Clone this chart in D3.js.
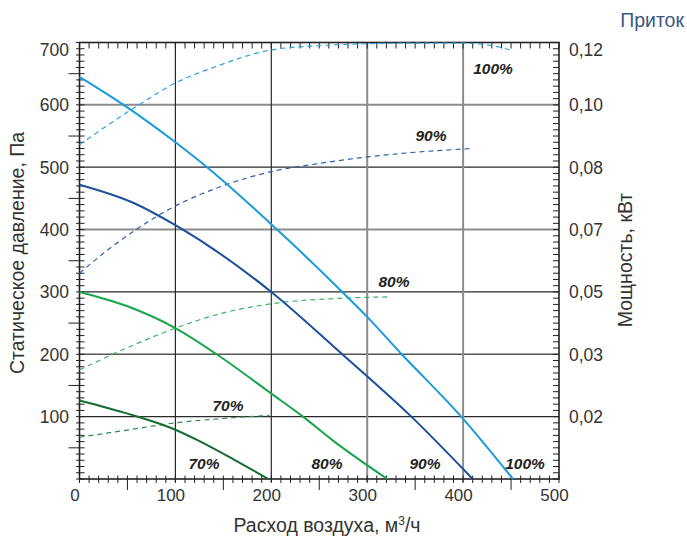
<!DOCTYPE html>
<html><head><meta charset="utf-8">
<script src="https://cdn.jsdelivr.net/npm/d3@7"></script>
<style>body{margin:0;background:#fff;font-family:"Liberation Sans",Arial,sans-serif}</style>
</head><body><svg id="c" width="687" height="538"></svg>
<script>
// ---- data ----
const xTicks = [0,100,200,300,400,500];
const yTicks = [100,200,300,400,500,600,700];
const kwTicks = [0.02,0.03,0.05,0.07,0.08,0.10,0.12];
const kwLabels = ["0,02","0,03","0,05","0,07","0,08","0,10","0,12"];
const speeds = ["100%","90%","80%","70%"];
// pressure curves [flow m3/h, Pa]
const p100 = [[0,645],[46,600],[100,540],[133,500],[206,400],[274,300],[300,260],[336,200],[398,100],[452,0]];
const p90  = [[0,472],[56,443],[100,407],[200,300],[274,200],[346,100],[410,0]];
const p80  = [[0,300],[50,277],[100,242],[143,200],[200,137],[233,100],[264,62],[321,0]];
const p70  = [[0,126],[52,104],[100,79],[122,63],[160,32],[197,0]];
// power curves [flow m3/h, kW]
const w100 = [[0,0.0872],[30,0.0936],[62,0.100],[100,0.107],[138,0.1118],[200,0.1176],[250,0.119],[300,0.1196],[350,0.1198],[400,0.1198],[430,0.119],[452,0.1174]];
const w90  = [[0,0.056],[30,0.0636],[59,0.070],[94,0.0733],[153,0.0772],[200,0.0793],[250,0.0812],[303,0.0834],[350,0.0848],[410,0.086]];
const w80  = [[0,0.0275],[52,0.0324],[100,0.0384],[149,0.0432],[200,0.0462],[274,0.048],[323,0.0484]];
const w70  = [[0,0.0167],[52,0.0179],[100,0.019],[149,0.0197],[198,0.0202]];

const svg = d3.select("#c");
const x = d3.scaleLinear().domain([0,500]).range([79.5,559]);
const y = d3.scaleLinear().domain([0,700]).range([479,42.5]);
const yk = d3.scaleLinear().domain(kwTicks).range(yTicks.map(v=>y(v)));

const grey="#8c8c8c", dark="#2a2a2a";
// gridlines
const hStyle = {100:[dark,1.2],200:["#555",1.5],300:[dark,1.2],400:[grey,2],500:[dark,1.2],600:[grey,2]};
[100,200,300,400,500,600].forEach(v=>{
  svg.append("line").attr("x1",x(0)).attr("x2",x(500)).attr("y1",y(v)).attr("y2",y(v))
    .attr("stroke",hStyle[v][0]).attr("stroke-width",hStyle[v][1]);
});
const vStyle = {100:[dark,1.2],200:[dark,1.2],300:[grey,2],400:[grey,2]};
[100,200,300,400].forEach(v=>{
  svg.append("line").attr("x1",x(v)).attr("x2",x(v)).attr("y1",y(700)).attr("y2",y(0)+3)
    .attr("stroke",vStyle[v][0]).attr("stroke-width",vStyle[v][1]);
});

// minor ticks
const tk = svg.append("g").attr("stroke","#222").attr("stroke-width",1);
d3.range(0,701,10).forEach(v=>{
  const long = v%100===50;
  tk.append("line").attr("x1",x(0)-(long?11:3.5)).attr("x2",x(0)+5).attr("y1",y(v)).attr("y2",y(v));
  tk.append("line").attr("x1",x(500)-6).attr("x2",x(500)).attr("y1",y(v)).attr("y2",y(v));
});
d3.range(0,501,10).forEach(v=>{
  const long = v%100===50;
  tk.append("line").attr("y1",y(0)-3.5).attr("y2",y(0)+(long?11:4)).attr("x1",x(v)).attr("x2",x(v));
  tk.append("line").attr("y1",y(700)).attr("y2",y(700)+6).attr("x1",x(v)).attr("x2",x(v));
});
// frame
svg.append("rect").attr("x",x(0)).attr("y",y(700)).attr("width",x(500)-x(0)).attr("height",y(0)-y(700))
  .attr("fill","none").attr("stroke","#222").attr("stroke-width",1.6);

// tick labels
const topY = v => Math.max(y(v), y(700)+7);
yTicks.forEach(v=>{
  svg.append("text").attr("x",69).attr("y",topY(v)).attr("dy","0.36em").attr("text-anchor","end")
    .attr("fill","#333").attr("font-size",17.5).text(v);
});
xTicks.forEach(v=>{
  svg.append("text").attr("x",x(v)-4.5).attr("y",501).attr("text-anchor","middle")
    .attr("fill","#333").attr("font-size",17).text(v);
});
kwTicks.forEach((v,i)=>{
  svg.append("text").attr("x",569).attr("y",Math.max(yk(v), y(700)+7)).attr("dy","0.36em").attr("text-anchor","start")
    .attr("fill","#333").attr("font-size",17.5).text(kwLabels[i]);
});

// titles
svg.append("text").attr("transform","translate(24,253) rotate(-90)").attr("text-anchor","middle")
  .attr("fill","#333").attr("font-size",19.5).text("Статическое давление, Па");
svg.append("text").attr("transform","translate(632,260) rotate(-90)").attr("text-anchor","middle")
  .attr("fill","#333").attr("font-size",19.5).text("Мощность, кВт");
const xt = svg.append("text").attr("x",327).attr("y",532).attr("text-anchor","middle")
  .attr("fill","#333").attr("font-size",19.5);
xt.append("tspan").text("Расход воздуха, м");
xt.append("tspan").attr("font-size",12).attr("dy",-7).text("3");
xt.append("tspan").attr("dy",7).text("/ч");
svg.append("text").attr("x",684).attr("y",27).attr("text-anchor","end")
  .attr("fill","#3d5a80").attr("font-size",19.5).text("Приток");

// curves
const lp = d3.line().x(d=>x(d[0])).y(d=>y(d[1])).curve(d3.curveMonotoneX);
const lw = d3.line().x(d=>x(d[0])).y(d=>yk(d[1])).curve(d3.curveMonotoneX);
const cols = ["#1a9bdc","#1c4f9c","#1aa54b","#156b33"];
const dcols = ["#2aa2e0","#2c62ad","#3cb66a","#2f8a52"];
[w100,w90,w80,w70].forEach((d,i)=>{
  svg.append("path").attr("d",lw(d)).attr("fill","none").attr("stroke",dcols[i])
    .attr("stroke-width",1.2).attr("stroke-dasharray","5,4");
});
[p100,p90,p80,p70].forEach((d,i)=>{
  svg.append("path").attr("d",lp(d)).attr("fill","none").attr("stroke",cols[i]).attr("stroke-width",2);
});

// percent labels
const topLab = [[493,68],[431,135],[394,281],[228,405]];
const botLab = [[525,463],[425,463],[327,463],[204,463]];
speeds.forEach((s,i)=>{
  [topLab[i],botLab[i]].forEach(p=>{
    svg.append("text").attr("x",p[0]).attr("y",p[1]).attr("dy","0.36em").attr("text-anchor","middle")
      .attr("fill","#222").attr("font-size",15.5).attr("font-weight","bold").attr("font-style","italic").text(s);
  });
});
</script></body></html>
